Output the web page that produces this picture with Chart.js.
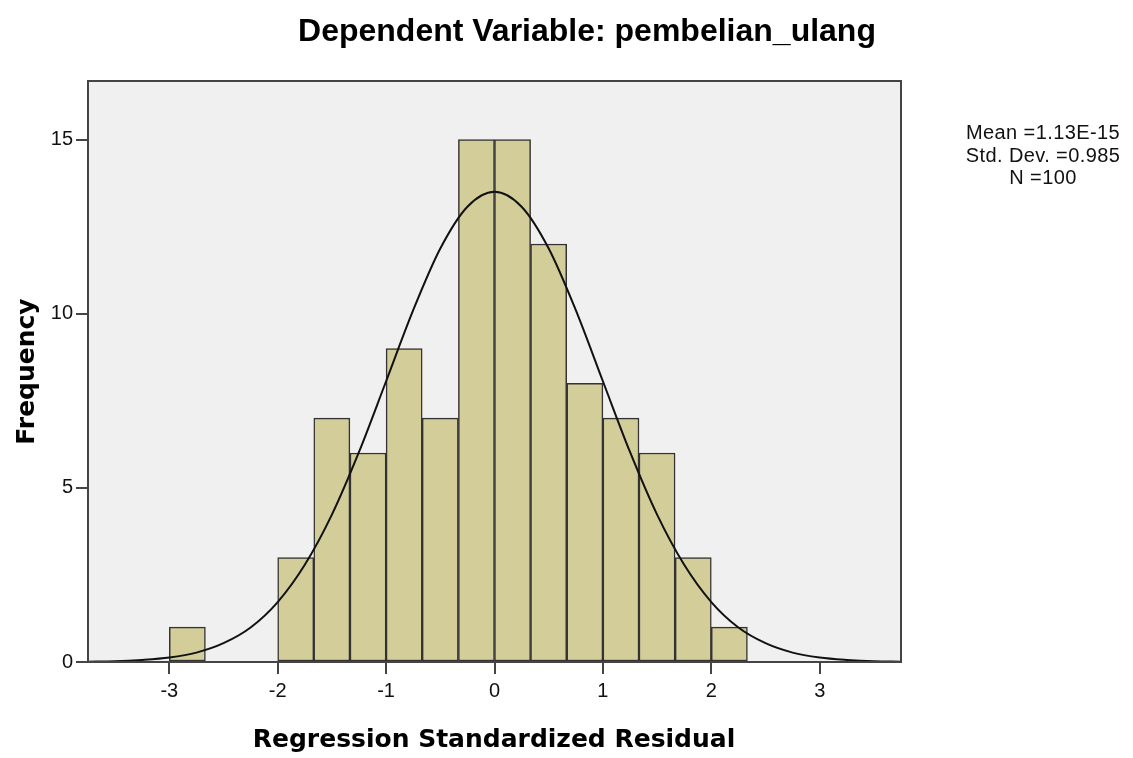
<!DOCTYPE html>
<html>
<head>
<meta charset="utf-8">
<script src="https://cdn.jsdelivr.net/npm/chart.js@4.4.0/dist/chart.umd.min.js"></script>
<style>
html, body { margin: 0; padding: 0; background: #fff; }
#wrap { width: 1133px; height: 758px; }
</style>
</head>
<body>
<div id="wrap"><canvas id="histChart" width="1133" height="758"></canvas></div>
<script>
// histogram bins (lower edge of each bin) and frequencies
var binStarts = [-3.0, -2.0, -1.667, -1.333, -1.0, -0.667, -0.333, 0.0, 0.333, 0.667, 1.0, 1.333, 1.667, 2.0];
var binWidth = 0.333;
var counts = [1, 3, 7, 6, 9, 7, 15, 15, 12, 8, 7, 6, 3, 1];

// normal curve, values
var curveX = [-3.75, -3.5, -3.25, -3, -2.75, -2.5, -2.25, -2, -1.75, -1.5, -1.25, -1, -0.75, -0.5, -0.25, 0,
              0.25, 0.5, 0.75, 1, 1.25, 1.5, 1.75, 2, 2.25, 2.5, 2.75, 3, 3.25, 3.5, 3.75];
var curveY = [0.01, 0.02, 0.06, 0.13, 0.27, 0.54, 0.99, 1.72, 2.79, 4.23, 6.03, 8.06, 10.1, 11.87, 13.07, 13.5,
              13.07, 11.87, 10.1, 8.06, 6.03, 4.23, 2.79, 1.72, 0.99, 0.54, 0.27, 0.13, 0.06, 0.02, 0.01];

var xTicks = [-3, -2, -1, 0, 1, 2, 3];
var yTicks = [0, 5, 10, 15];

var chartTitle = "Dependent Variable: pembelian_ulang";
var xTitle = "Regression Standardized Residual";
var yTitle = "Frequency";
var statLines = ["Mean =1.13E-15", "Std. Dev. =0.985", "N =100"];

var barPoints = binStarts.map(function (s, i) {
    return { x: s + binWidth / 2, y: counts[i] };
});
var curvePoints = curveX.map(function (x, i) {
    return { x: x, y: curveY[i] };
});

// plot background, frame and the free text
var frameAndText = {
    id: "frameAndText",
    beforeDraw: function (chart) {
        var a = chart.chartArea, ctx = chart.ctx;
        ctx.save();
        ctx.fillStyle = "#f0f0f0";
        ctx.fillRect(a.left, a.top, a.right - a.left, a.bottom - a.top);
        ctx.restore();
    },
    afterDatasetsDraw: function (chart) {
        var a = chart.chartArea, ctx = chart.ctx;
        ctx.save();
        ctx.strokeStyle = "#444";
        ctx.lineWidth = 2;
        ctx.strokeRect(a.left, a.top, a.right - a.left, a.bottom - a.top);
        ctx.restore();
    },
    afterDraw: function (chart) {
        var ctx = chart.ctx;
        ctx.save();
        ctx.fillStyle = "#000";
        ctx.textAlign = "center";
        ctx.textBaseline = "alphabetic";

        ctx.font = "bold 32px 'Liberation Sans', Arial, sans-serif";
        ctx.fillText(chartTitle, 587, 41);

        ctx.font = "20px 'Liberation Sans', Arial, sans-serif";
        ctx.fillStyle = "#111";
        ctx.letterSpacing = "0.4px";
        ctx.fillText(statLines[0], 1043, 139);
        ctx.fillText(statLines[1], 1043, 161.5);
        ctx.fillText(statLines[2], 1043, 183.5);
        ctx.letterSpacing = "0px";

        ctx.fillStyle = "#000";
        ctx.font = "bold 25px 'DejaVu Sans', Verdana, sans-serif";
        ctx.fillText(xTitle, 494, 747);

        ctx.translate(33.5, 371.5);
        ctx.rotate(-Math.PI / 2);
        ctx.fillText(yTitle, 0, 0);
        ctx.restore();
    }
};

var ctx = document.getElementById("histChart").getContext("2d");

var chart = new Chart(ctx, {
    type: "bar",
    data: {
        datasets: [{
            type: "line",
            label: "Normal",
            data: curvePoints,
            borderColor: "#111",
            borderWidth: 2,
            pointRadius: 0,
            fill: false,
            cubicInterpolationMode: "monotone",
            order: 0
        }, {
            type: "bar",
            label: "Frequency",
            data: barPoints,
            backgroundColor: "rgb(211, 206, 153)",
            borderColor: "#333",
            borderWidth: 1.5,
            borderSkipped: false,
            barPercentage: 1,
            categoryPercentage: 1,
            order: 1
        }]
    },
    options: {
        responsive: false,
        animation: false,
        devicePixelRatio: 1,
        layout: { padding: { left: 0, top: 81, right: 232, bottom: 0 } },
        plugins: {
            legend: { display: false },
            tooltip: { enabled: false },
            title: { display: false }
        },
        scales: {
            x: {
                type: "linear",
                min: -3.75,
                max: 3.75,
                offset: false,
                afterBuildTicks: function (scale) {
                    scale.ticks = xTicks.map(function (v) { return { value: v }; });
                },
                afterFit: function (scale) { scale.height = 96; },
                border: { display: false },
                grid: { offset: false, drawOnChartArea: false, drawTicks: true, tickLength: 12, color: "#444", lineWidth: 2 },
                ticks: {
                    autoSkip: false,
                    maxRotation: 0,
                    padding: 5,
                    color: "#111",
                    font: { family: "'Liberation Sans', Arial, sans-serif", size: 20 }
                }
            },
            y: {
                min: 0,
                max: 16.68,
                afterBuildTicks: function (scale) {
                    scale.ticks = yTicks.map(function (v) { return { value: v }; });
                },
                afterFit: function (scale) { scale.width = 88; },
                border: { display: false },
                grid: { drawOnChartArea: false, drawTicks: true, tickLength: 12, color: "#444", lineWidth: 2 },
                ticks: {
                    padding: 3,
                    color: "#111",
                    font: { family: "'Liberation Sans', Arial, sans-serif", size: 20 }
                }
            }
        }
    },
    plugins: [frameAndText]
});
</script>
</body>
</html>
